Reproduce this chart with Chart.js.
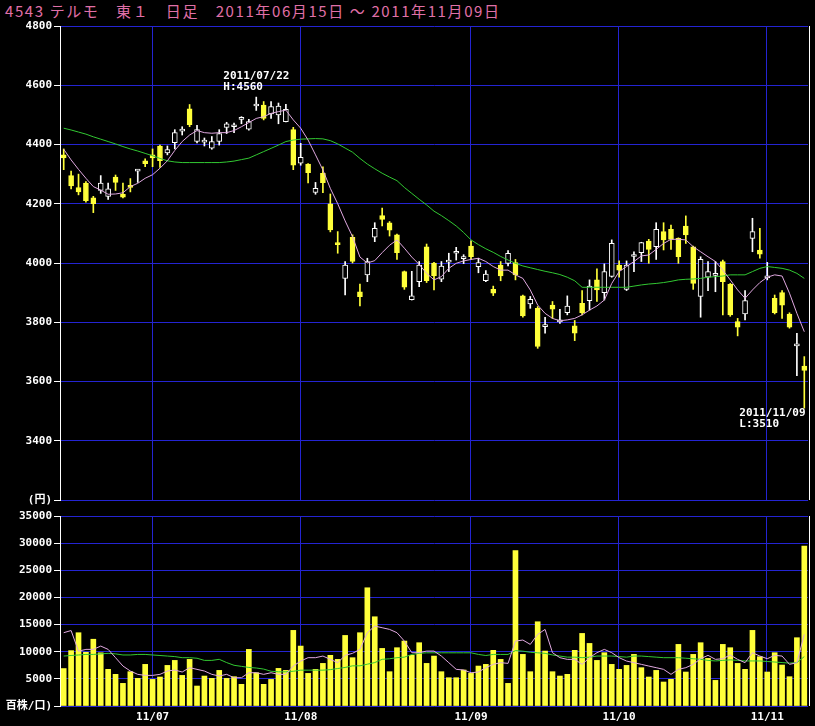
<!DOCTYPE html>
<html>
<head>
<meta charset="utf-8">
<script src="https://cdn.jsdelivr.net/npm/chart.js@4.4.0/dist/chart.umd.min.js"></script>
<style>
  body { margin: 0; background: #000; width: 815px; height: 726px; overflow: hidden; }
  #title { position: absolute; left: 5px; top: 0; line-height: 18px; color: #e070a8;
           font: 15px "Noto Sans CJK JP"; letter-spacing: 1.6px; white-space: pre; }
  canvas { position: absolute; left: 0; top: 0; }
</style>
</head>
<body>
<div id="title">4543 テルモ　東１　日足　2011年06月15日 ～ 2011年11月09日</div>
<canvas id="price" width="815" height="726"></canvas>
<canvas id="volume" width="815" height="726"></canvas>
<script>
// trading days per month (2011)
const jun = [15, 16, 17, 20, 21, 22, 23, 24, 27, 28, 29, 30];
const jul = [1, 4, 5, 6, 7, 8, 11, 12, 13, 14, 15, 19, 20, 21, 22, 25, 26, 27, 28, 29];
const aug = [1, 2, 3, 4, 5, 8, 9, 10, 11, 12, 15, 16, 17, 18, 19, 22, 23, 24, 25, 26, 29, 30, 31];
const sep = [1, 2, 5, 6, 7, 8, 9, 12, 13, 14, 15, 16, 20, 21, 22, 26, 27, 28, 29, 30];
const oct = [3, 4, 5, 6, 7, 11, 12, 13, 14, 17, 18, 19, 20, 21, 24, 25, 26, 27, 28, 31];
const nov = [1, 2, 4, 7, 8, 9];

const open = [4365, 4295, 4255, 4270, 4220, 4245, 4225, 4290, 4232, 4262, 4310, 4345, 4365, 4395, 4372, 4406, 4445, 4520, 4410, 4408,
  4388, 4410, 4458, 4460, 4485, 4452, 4530, 4533, 4503, 4500, 4477, 4450, 4337, 4334, 4238, 4303, 4200, 4065, 3948, 4087,
  3903, 3960, 4087, 4160, 4136, 4095, 3971, 3876, 3937, 4055, 4000, 3945, 4003, 4033, 4015, 4057, 3988, 3940, 3911, 3993,
  3999, 4001, 3889, 3862, 3847, 3785, 3858, 3801, 3832, 3788, 3864, 3873, 3943, 3900, 3955, 3993, 3911, 4022, 4035, 4074,
  4055, 4106, 4114, 4083, 4125, 4055, 3887, 3952, 3958, 4005, 3928, 3802, 3828, 4083, 4044, 3950, 3881, 3900, 3828, 3720, 3652];
const high = [4385, 4310, 4300, 4275, 4225, 4295, 4270, 4297, 4270, 4285, 4315, 4352, 4385, 4398, 4395, 4450, 4460, 4535, 4465, 4422,
  4427, 4450, 4475, 4472, 4494, 4485, 4560, 4545, 4545, 4540, 4536, 4458, 4404, 4336, 4272, 4325, 4233, 4106, 4005, 4095,
  3929, 4016, 4136, 4185, 4140, 4098, 3973, 3972, 4005, 4064, 4002, 4005, 4033, 4053, 4028, 4075, 4016, 3974, 3922, 4005,
  4042, 4012, 3892, 3887, 3853, 3817, 3870, 3844, 3889, 3806, 3907, 3943, 3980, 3997, 4078, 4007, 4007, 4038, 4070, 4080,
  4136, 4136, 4128, 4085, 4159, 4057, 4021, 4005, 4005, 4010, 3931, 3813, 3907, 4151, 4117, 4002, 3892, 3907, 3832, 3763, 3684];
const low = [4315, 4250, 4230, 4205, 4170, 4235, 4215, 4245, 4220, 4240, 4272, 4325, 4325, 4323, 4365, 4385, 4432, 4460, 4405, 4395,
  4384, 4398, 4437, 4440, 4470, 4448, 4515, 4483, 4488, 4470, 4476, 4315, 4330, 4270, 4232, 4237, 4105, 4033, 3892, 4000,
  3855, 3937, 4072, 4125, 4091, 4012, 3911, 3875, 3920, 3934, 3909, 3937, 3971, 4010, 3998, 4012, 3967, 3937, 3890, 3940,
  3990, 3943, 3817, 3847, 3712, 3763, 3813, 3796, 3825, 3738, 3825, 3841, 3870, 3875, 3952, 3952, 3907, 3971, 4005, 3999,
  4012, 4044, 4046, 3999, 4066, 3911, 3817, 3907, 3903, 3825, 3820, 3754, 3808, 4038, 4016, 3943, 3828, 3813, 3780, 3620, 3510];
const close = [4355, 4260, 4240, 4210, 4200, 4270, 4250, 4272, 4222, 4255, 4312, 4335, 4355, 4345, 4383, 4440, 4450, 4467, 4450, 4412,
  4410, 4437, 4470, 4462, 4488, 4477, 4534, 4488, 4528, 4530, 4519, 4330, 4357, 4305, 4252, 4271, 4112, 4062, 3993, 4005,
  3886, 4005, 4117, 4147, 4111, 4035, 3918, 3889, 3993, 3940, 3956, 3990, 4006, 4036, 4017, 4021, 4001, 3963, 3898, 3956,
  4033, 3960, 3821, 3877, 3718, 3787, 3844, 3803, 3855, 3763, 3832, 3922, 3909, 3971, 4066, 3976, 3993, 4025, 4069, 4046,
  4114, 4078, 4080, 4021, 4095, 3931, 4012, 3971, 3962, 3937, 3825, 3783, 3873, 4106, 4030, 3954, 3832, 3858, 3783, 3722, 3637];

// moving averages as drawn on the chart
const maShort = [4384, 4348, 4316, 4286, 4258, 4246, 4232, 4233, 4237, 4258, 4269, 4286, 4298, 4320, 4345, 4380, 4410, 4432, 4447, 4440,
  4438, 4440, 4440, 4447, 4460, 4474, 4488, 4494, 4505, 4511, 4516, 4483, 4455, 4415, 4365, 4314, 4252, 4200, 4142, 4089,
  4020, 4000, 4008, 4035, 4060, 4078, 4050, 4020, 3995, 3965, 3943, 3954, 3982, 3999, 4007, 4012, 4016, 4005, 3988, 3976,
  3976, 3960, 3948, 3909, 3858, 3830, 3813, 3805, 3808, 3813, 3825, 3841, 3855, 3875, 3931, 3971, 3988, 4005, 4024, 4027,
  4046, 4066, 4080, 4080, 4078, 4055, 4038, 4021, 4005, 3976, 3943, 3909, 3881, 3909, 3934, 3952, 3960, 3956, 3898, 3830, 3768];
const maLong = [4455, 4449, 4442, 4435, 4426, 4418, 4410, 4402, 4393, 4385, 4378, 4370, 4362, 4353, 4345, 4341, 4339, 4339, 4339, 4339,
  4339, 4339, 4341, 4344, 4349, 4354, 4365, 4376, 4387, 4398, 4410, 4415, 4418, 4419, 4420, 4419, 4413, 4402, 4388, 4374,
  4353, 4334, 4318, 4303, 4290, 4278, 4255, 4235, 4215, 4196, 4175, 4160, 4143, 4125, 4103, 4078, 4062, 4048, 4036, 4022,
  4010, 3999, 3990, 3984, 3978, 3972, 3967, 3961, 3952, 3940, 3918, 3918, 3918, 3918, 3918, 3918, 3918, 3922, 3926, 3929,
  3931, 3934, 3938, 3943, 3945, 3946, 3948, 3952, 3954, 3956, 3960, 3960, 3960, 3971, 3982, 3988, 3985, 3982, 3976, 3965, 3948];

const volume = [6900, 10200, 13500, 9900, 12300, 9800, 6750, 5830, 4170, 6320, 5090, 7670, 4900, 5340, 7480, 8400, 5640, 8590, 3680, 5520,
  5090, 6560, 5090, 5400, 3990, 10430, 6130, 3990, 4900, 6930, 6560, 13930, 11040, 6010, 6750, 7850, 9330, 8590, 13000, 8900,
  13500, 21780, 16440, 10610, 6320, 10740, 11960, 9330, 11660, 7850, 9200, 6320, 5210, 5210, 6630, 6010, 7360, 7670, 10250, 8590,
  4170, 28650, 9510, 6320, 15520, 10120, 6320, 5520, 5830, 10250, 13370, 11530, 8400, 9820, 7670, 6750, 7480, 9510, 7060, 5340,
  6560, 4420, 4910, 11350, 6260, 9510, 11660, 8770, 4720, 11350, 10740, 7850, 6750, 13930, 9080, 6260, 9820, 7550, 5400, 12580, 29450];
const volShort = [13500, 13900, 10100, 10430, 10430, 11040, 10430, 8900, 7360, 6440, 5830, 5640, 5640, 5830, 6440, 6630, 6260, 7060, 6750, 6440,
  5830, 5520, 5830, 5210, 5210, 6130, 6130, 5830, 6130, 5830, 5830, 7360, 8280, 8900, 8900, 9200, 8590, 7980, 9330, 9700,
  10430, 13500, 14720, 14420, 14110, 13500, 11960, 9820, 9820, 10120, 10120, 9200, 7980, 6750, 6630, 6130, 6260, 7060, 7670, 7980,
  7850, 11960, 12150, 11350, 13190, 14110, 9820, 8900, 8590, 8590, 7670, 8900, 9820, 10430, 9820, 8900, 8280, 7980, 7670, 7360,
  7060, 6750, 5830, 6750, 7060, 7670, 8710, 9330, 8590, 8710, 9390, 8590, 7980, 9820, 9200, 8710, 9330, 9200, 7670, 7980, 13190];
const volLong = [9200, 9300, 9400, 9500, 9500, 9600, 9700, 9600, 9400, 9400, 9500, 9500, 9400, 9300, 9200, 9100, 8900, 8900, 8800, 8400,
  8400, 8600, 8000, 7500, 7300, 7100, 7000, 6800, 6400, 6300, 6300, 6400, 6600, 6600, 6600, 6600, 6700, 6900, 7100, 7400,
  7400, 7700, 8000, 8600, 8700, 8900, 9000, 9500, 9700, 9800, 9800, 9800, 9800, 9800, 9800, 9800, 9500, 9300, 9500, 9500,
  9500, 10200, 10100, 9900, 9800, 9700, 9400, 9200, 9000, 9000, 8900, 9000, 9200, 9200, 9200, 9100, 9000, 9200, 9200, 9100,
  9000, 8900, 8900, 8900, 8800, 8700, 8600, 8400, 8300, 8400, 8500, 8400, 8300, 8300, 8300, 8200, 8100, 8000, 7900, 8000, 9100];

const BLUE = '#2424d2';
const YELLOW = '#ffff3a';
const WHITE = '#ffffff';
const PINK = '#e0a8e0';
const GREEN = '#32c832';
const FONT = '"DejaVu Sans Mono", "Noto Sans CJK JP", monospace';

const months = [['06', jun], ['07', jul], ['08', aug], ['09', sep], ['10', oct], ['11', nov]];
const labels = [];
const monthStart = [];
const monthName = {};
months.forEach(([m, days]) => {
  if (m !== '06') { monthStart.push(labels.length); monthName[labels.length] = '11/' + m; }
  days.forEach(d => labels.push('2011/' + m + '/' + String(d).padStart(2, '0')));
});

const up = close.map((c, i) => c >= open[i]);
const hiIdx = high.indexOf(Math.max(...high));
const loIdx = low.indexOf(Math.min(...low));

// month lines and right border, drawn behind / over the data
const frame = {
  id: 'frame',
  beforeDatasetsDraw(chart) {
    const { ctx, chartArea, scales: { x } } = chart;
    ctx.save();
    ctx.strokeStyle = BLUE;
    ctx.lineWidth = 1;
    ctx.beginPath();
    monthStart.forEach(i => {
      const px = Math.round(x.getPixelForValue(i)) - 0.5;
      ctx.moveTo(px, chartArea.top);
      ctx.lineTo(px, chartArea.bottom);
    });
    ctx.stroke();
    ctx.restore();
  },
  afterDraw(chart) {
    const { ctx, chartArea } = chart;
    ctx.save();
    ctx.strokeStyle = WHITE;
    ctx.lineWidth = 1;
    ctx.beginPath();
    ctx.moveTo(Math.round(chartArea.right) + 1.5, chartArea.top);
    ctx.lineTo(Math.round(chartArea.right) + 1.5, chartArea.bottom);
    ctx.stroke();
    ctx.restore();
  }
};

const notes = {
  id: 'notes',
  afterDraw(chart) {
    const { ctx, scales: { x, y } } = chart;
    ctx.save();
    ctx.fillStyle = WHITE;
    ctx.font = 'bold 11px ' + FONT;
    ctx.textBaseline = 'middle';
    let px = x.getPixelForValue(hiIdx), py = y.getPixelForValue(high[hiIdx]);
    ctx.fillText(labels[hiIdx], px - 33, py - 21);
    ctx.fillText('H:' + high[hiIdx], px - 33, py - 10);
    px = x.getPixelForValue(loIdx); py = y.getPixelForValue(low[loIdx]);
    ctx.fillText(labels[loIdx], px - 65, py + 5);
    ctx.fillText('L:' + low[loIdx], px - 65, py + 16);
    ctx.restore();
  }
};

function yAxis(min, max, step, bottomText) {
  return {
    min: min, max: max,
    ticks: {
      stepSize: step, color: WHITE, padding: 2,
      font: { family: FONT, size: 11, weight: 'bold' },
      callback: v => v === min ? bottomText : String(v)
    },
    grid: { color: BLUE, tickColor: WHITE, tickLength: 6 },
    border: { color: WHITE },
    afterFit: s => { s.width = 60; }
  };
}

new Chart(document.getElementById('price'), {
  type: 'bar',
  data: {
    labels: labels,
    datasets: [
      { type: 'line', data: maShort, borderColor: PINK, borderWidth: 1, pointRadius: 0, order: 0 },
      { type: 'line', data: maLong, borderColor: GREEN, borderWidth: 1, pointRadius: 0, order: 0 },
      {
        data: open.map((o, i) => [o, close[i]]),
        backgroundColor: up.map(u => u ? '#000' : YELLOW),
        borderColor: up.map(u => u ? WHITE : YELLOW),
        borderWidth: 1, borderSkipped: false, barThickness: 5, minBarLength: 2,
        grouped: false, order: 1
      },
      {
        data: low.map((l, i) => [l, high[i]]),
        backgroundColor: up.map(u => u ? WHITE : YELLOW),
        barThickness: 1, grouped: false, order: 2
      }
    ]
  },
  options: {
    responsive: false, animation: false, events: [],
    layout: { padding: { top: 26, bottom: 226, left: 0, right: 7 } },
    plugins: { legend: { display: false }, tooltip: { enabled: false } },
    scales: {
      x: {
        offset: true,
        ticks: { display: false },
        grid: { display: false, drawTicks: false },
        border: { display: false },
        afterFit: s => { s.height = 0; }
      },
      y: yAxis(3200, 4800, 200, '(円)')
    }
  },
  plugins: [frame, notes]
});

new Chart(document.getElementById('volume'), {
  type: 'bar',
  data: {
    labels: labels,
    datasets: [
      { type: 'line', data: volShort, borderColor: PINK, borderWidth: 1, pointRadius: 0, order: 0 },
      { type: 'line', data: volLong, borderColor: GREEN, borderWidth: 1, pointRadius: 0, order: 0 },
      { data: volume, backgroundColor: YELLOW, barThickness: 5, order: 1 }
    ]
  },
  options: {
    responsive: false, animation: false, events: [],
    layout: { padding: { top: 516, bottom: 0, left: 0, right: 7 } },
    plugins: { legend: { display: false }, tooltip: { enabled: false } },
    scales: {
      x: {
        offset: true,
        ticks: {
          autoSkip: false, maxRotation: 0, color: WHITE, padding: 5,
          font: { family: FONT, size: 11, weight: 'bold' },
          callback: (v, i) => monthName[i] || ''
        },
        grid: { display: false, drawTicks: false },
        border: { display: false },
        afterFit: s => { s.height = 20; }
      },
      y: yAxis(0, 35000, 5000, '百株/口)')
    }
  },
  plugins: [frame]
});
</script>
</body>
</html>
